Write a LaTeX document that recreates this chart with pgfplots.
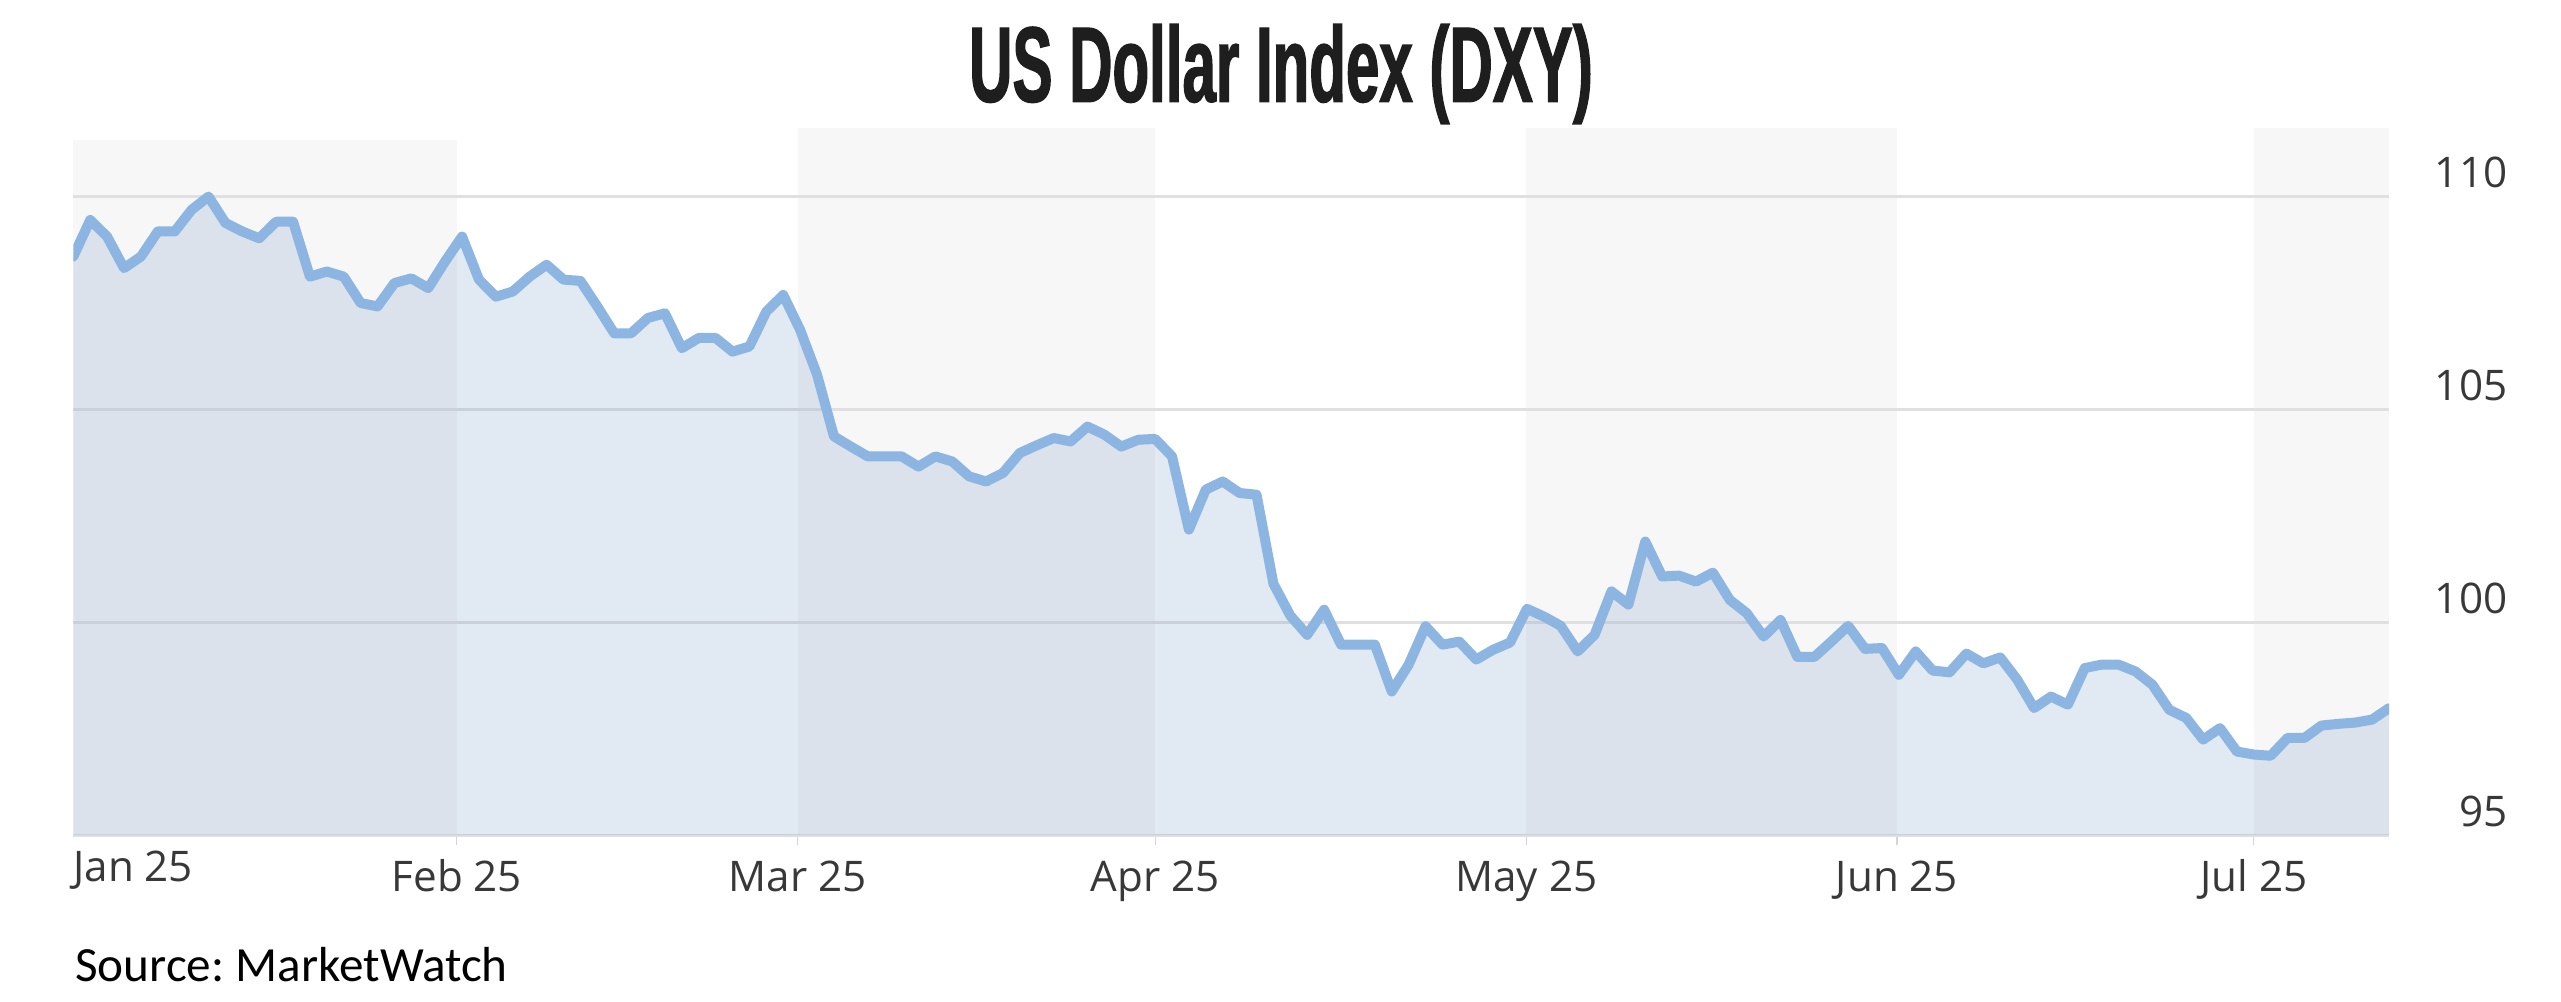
\documentclass[border=0pt]{standalone}
\usepackage{pgfplots}
\pgfplotsset{compat=1.18}
\usepackage{pgfplotstable}
\usepackage{fontspec}
\setmainfont{Open Sans}
\newfontfamily\titlefont{Liberation Sans}[FakeStretch=0.56, FakeBold=1.2]
\newfontfamily\srcfont{Carlito}
\definecolor{linec}{RGB}{141,181,226}
\definecolor{areac}{RGB}{120,155,195}
\definecolor{bandc}{RGB}{247,247,247}
\definecolor{gridc}{RGB}{224,224,224}
\definecolor{tickc}{RGB}{204,214,235}
\definecolor{labc}{RGB}{56,56,56}
\definecolor{titc}{RGB}{30,30,30}

\pgfplotstableread{
i v
0 108.58
1 109.44
2 109.05
3 108.31
4 108.58
5 109.17
6 109.17
7 109.68
8 109.99
9 109.37
10 109.17
11 109.01
12 109.40
13 109.40
14 108.11
15 108.23
16 108.11
17 107.49
18 107.41
19 107.96
20 108.07
21 107.84
22 108.47
23 109.05
24 108.04
25 107.64
26 107.76
27 108.11
28 108.39
29 108.04
30 108.01
31 107.41
32 106.78
33 106.78
34 107.14
35 107.25
36 106.43
37 106.67
38 106.67
39 106.35
40 106.47
41 107.29
42 107.68
43 106.86
44 105.81
45 104.36
46 104.12
47 103.89
48 103.89
49 103.89
50 103.65
51 103.89
52 103.77
53 103.42
54 103.30
55 103.50
56 103.97
57 104.15
58 104.32
59 104.24
60 104.59
61 104.40
62 104.12
63 104.28
64 104.30
65 103.89
66 102.17
67 103.11
68 103.30
69 103.03
70 102.99
71 100.90
72 100.15
73 99.70
74 100.29
75 99.47
76 99.47
77 99.47
78 98.37
79 99.00
80 99.90
81 99.47
82 99.54
83 99.12
84 99.35
85 99.52
86 100.31
87 100.13
88 99.91
89 99.31
90 99.70
91 100.72
92 100.41
93 101.89
94 101.07
95 101.09
96 100.95
97 101.16
98 100.52
99 100.21
100 99.66
101 100.05
102 99.18
103 99.18
104 99.54
105 99.91
106 99.37
107 99.39
108 98.76
109 99.31
110 98.86
111 98.82
112 99.26
113 99.03
114 99.17
115 98.65
116 97.98
117 98.25
118 98.06
119 98.92
120 99.00
121 99.00
122 98.84
123 98.53
124 97.94
125 97.75
126 97.24
127 97.51
128 96.96
129 96.89
130 96.86
131 97.28
132 97.28
133 97.57
134 97.61
135 97.64
136 97.71
137 97.98
}\dxy

\begin{document}
\frenchspacing
\begin{tikzpicture}
\path (0,0) rectangle (25.61cm,10.01cm);
\begin{axis}[
  set layers,
  at={(0.733cm,1.66cm)}, anchor=south west,
  width=23.157cm, height=7.07cm, scale only axis,
  xmin=0, xmax=137, ymin=95, ymax=111.6,
  axis x line*=bottom, axis y line*=right,
  x axis line style={draw=gridc, line width=0.03cm, -},
  y axis line style={draw=none},
  xtick={22.69,42.86,64.01,85.96,107.89,129.0},
  xticklabels={Feb 25,Mar 25,Apr 25,May 25,Jun 25,Jul 25},
  extra x ticks={0},
  extra x tick labels={\rlap{Jan 25}},
  extra x tick style={major tick length=0pt},
  ytick={95,100,105,110},
  ymajorgrids,
  grid style={draw=gridc, line width=0.03cm},
  tick align=outside,
  major tick length=0.1cm,
  xtick style={draw=tickc, line width=0.012cm},
  ytick style={draw=none},
  ticklabel style={font=\fontsize{12}{14}\selectfont, text=labc, inner sep=0pt},
  xticklabel style={anchor=base, yshift=-0.467cm},
  yticklabel style={anchor=base east, xshift=1.09cm, yshift=0.085cm},
  /pgf/number format/assume math mode=true,
]
\begin{pgfonlayer}{axis background}
  \fill[bandc] (axis cs:0,95) rectangle (axis cs:22.69,111.31);
  \fill[bandc] (axis cs:42.86,95) rectangle (axis cs:64.01,111.6);
  \fill[bandc] (axis cs:85.96,95) rectangle (axis cs:107.89,111.6);
  \fill[bandc] (axis cs:129.0,95) rectangle (axis cs:137,111.6);
\end{pgfonlayer}
\addplot[draw=none, fill=areac, fill opacity=0.22] table[x=i, y=v] {\dxy} \closedcycle;
\addplot[draw=linec, line width=0.1cm, line join=round, line cap=round] table[x=i, y=v] {\dxy};
\end{axis}
\node[anchor=base, inner sep=0pt, text=titc] at (12.81cm,8.993cm) {\titlefont\bfseries\fontsize{30.5}{34}\selectfont US Dollar Index (DXY)};
\node[anchor=base west, inner sep=0pt, text=black] at (0.746cm,0.193cm) {\srcfont\fontsize{14}{16}\selectfont Source: MarketWatch};
\end{tikzpicture}
\end{document}
